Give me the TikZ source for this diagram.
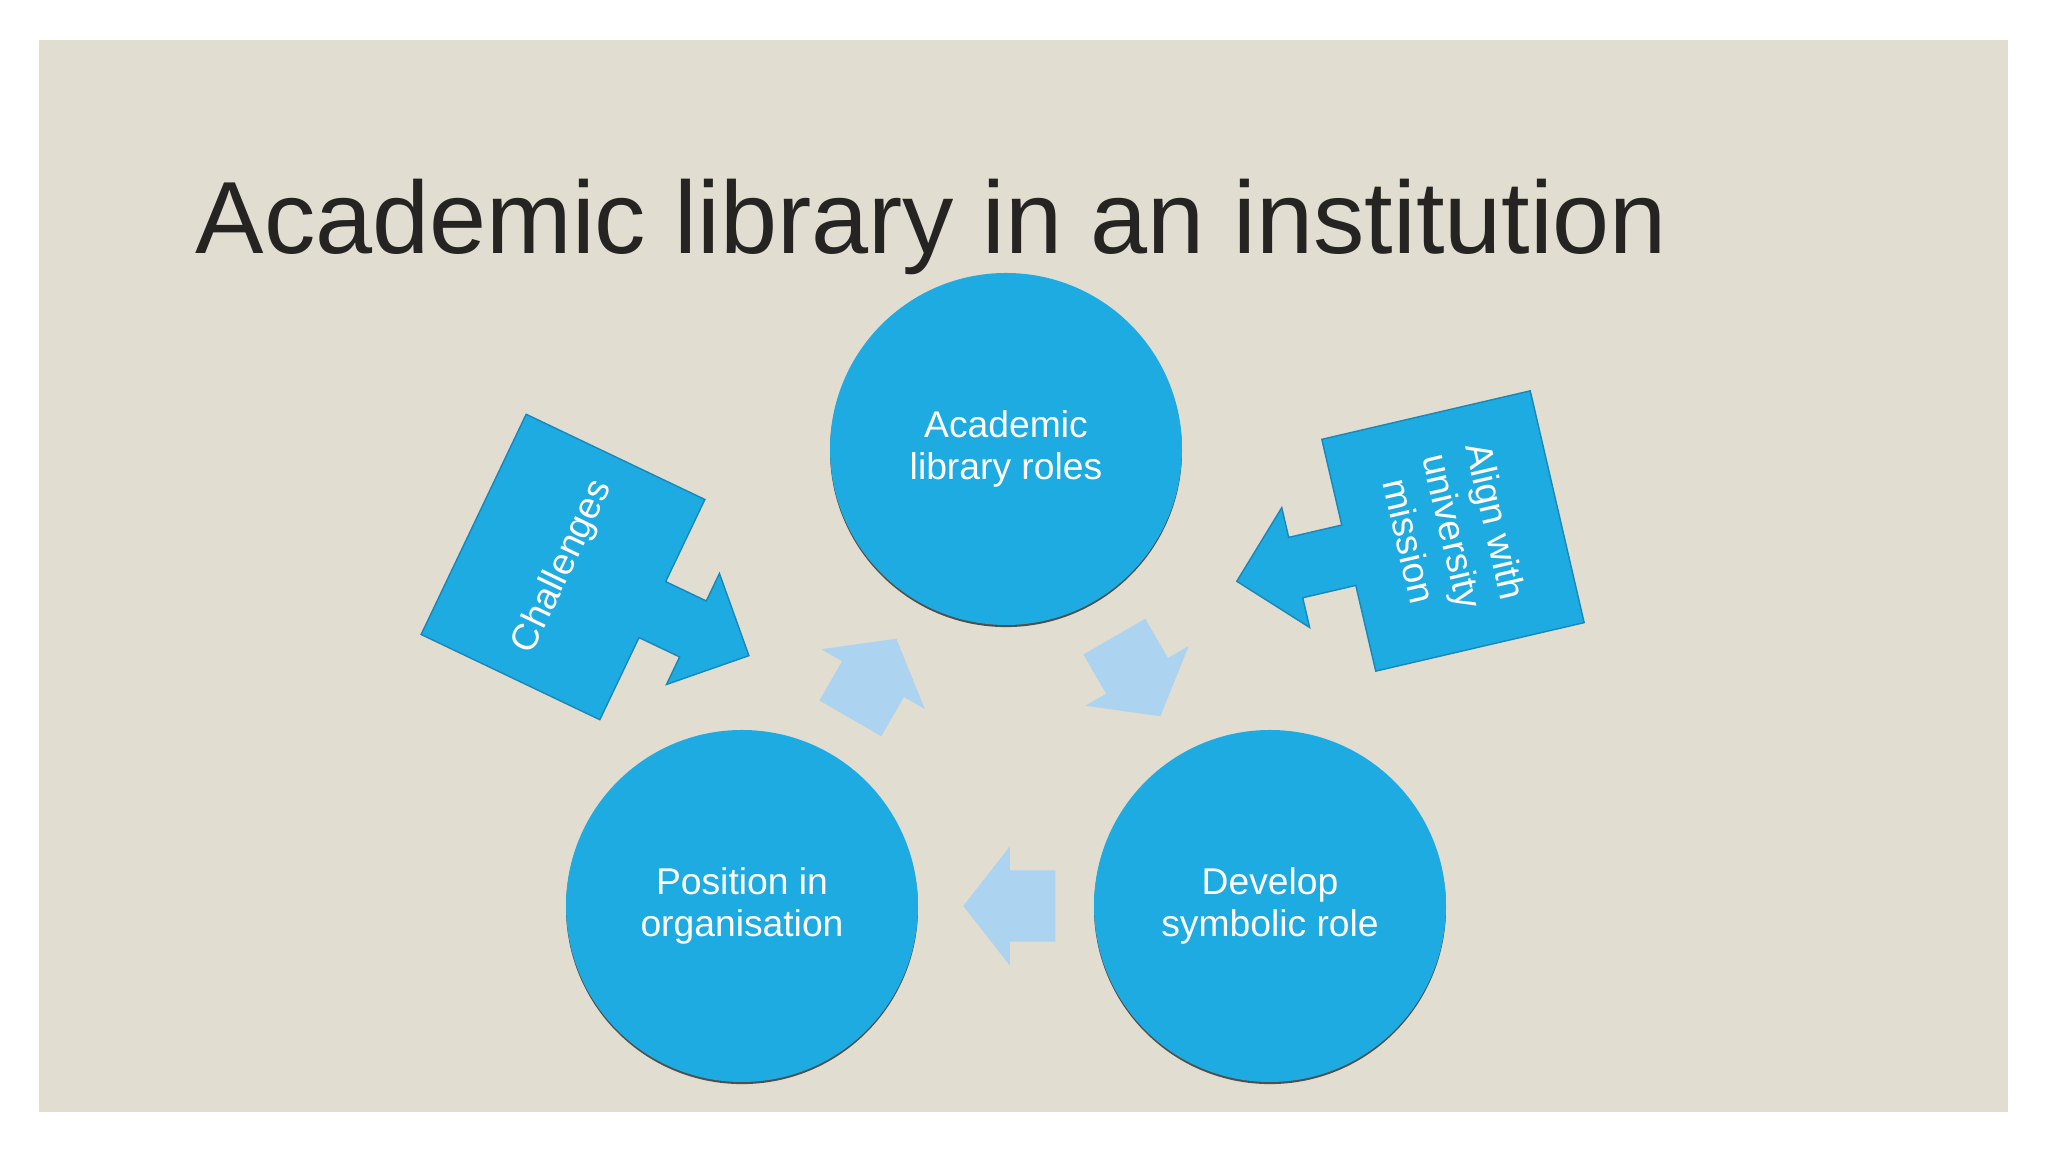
\documentclass[tikz,border=0pt]{standalone}
\usepackage{fontspec}
\setmainfont{Liberation Sans}
\usetikzlibrary{positioning,shapes.arrows,shadows}

\definecolor{slide}{RGB}{225,221,209}
\definecolor{roleblue}{RGB}{30,171,226}
\definecolor{rolerim}{RGB}{24,135,185}
\definecolor{flowblue}{RGB}{172,211,240}
\definecolor{titleink}{RGB}{38,36,34}

\tikzset{
  role/.style={circle, fill=roleblue, minimum size=3.52cm, inner sep=0pt,
    text=white, align=center, font=\fontsize{10.6}{12.1}\selectfont,
    drop shadow={shadow xshift=0pt, shadow yshift=-0.6pt, fill=black!75, opacity=.9}},
  flow/.style={single arrow, fill=flowblue, minimum height=0.92cm, inner xsep=0pt,
    inner ysep=0.35cm, single arrow head extend=0.24cm, single arrow tip angle=104,
    anchor=tail},
  callout/.style={fill=roleblue, draw=rolerim, line width=0.4pt},
  calltext/.style={text=white, align=center, inner sep=0pt, font=\fontsize{10.6}{12.6}\selectfont}
}

\begin{document}
\begin{tikzpicture}[on grid]
  \useasboundingbox (0,0) rectangle (20.48,11.52);
  \fill[slide] (0.39,0.40) rectangle (20.08,11.12);
  \node[anchor=base west, inner sep=0pt, text=titleink, font=\fontsize{29.2}{34}\selectfont]
    (title) at (1.95,8.98) {Academic library in an institution};

  % the three roles
  \node[role] (roles) at (10.06,7.03) {Academic\\library roles};
  \node[role] (position) [below left=4.57cm and 2.64cm of roles] {Position in\\organisation};
  \node[role] (symbolic) [below right=4.57cm and 2.64cm of roles] {Develop\\symbolic role};

  % cycle arrows (placed by their tails)
  \node[flow, rotate=60]  (up)   at (8.50,4.33)  {};
  \node[flow, rotate=-60] (down) at (11.14,5.16) {};
  \node[flow, rotate=180] (back) at (10.56,2.46) {};

  % side callouts
  \coordinate (chal) at (5.63,5.85);
  \begin{scope}[shift={(chal)}, rotate=-25.5]
    \draw[callout] (-0.99,1.22) -- (0.99,1.22) -- (0.99,0.31) -- (1.44,0.31)
      -- (1.44,0.615) -- (2.06,0) -- (1.44,-0.615) -- (1.44,-0.31)
      -- (0.99,-0.31) -- (0.99,-1.22) -- (-0.99,-1.22) -- cycle;
  \end{scope}
  \node[calltext, rotate=64.5] (challenges) at (chal) {Challenges};

  \coordinate (mis) at (14.53,6.21);
  \begin{scope}[shift={(mis)}, rotate=193.1]
    \draw[callout] (-1.07,1.19) -- (1.07,1.19) -- (1.07,0.31) -- (1.615,0.31)
      -- (1.615,0.615) -- (2.22,0) -- (1.615,-0.615) -- (1.615,-0.31)
      -- (1.07,-0.31) -- (1.07,-1.19) -- (-1.07,-1.19) -- cycle;
  \end{scope}
  \node[calltext, rotate=-76.9] (align) at (mis) {Align with\\university\\mission};
\end{tikzpicture}
\end{document}
